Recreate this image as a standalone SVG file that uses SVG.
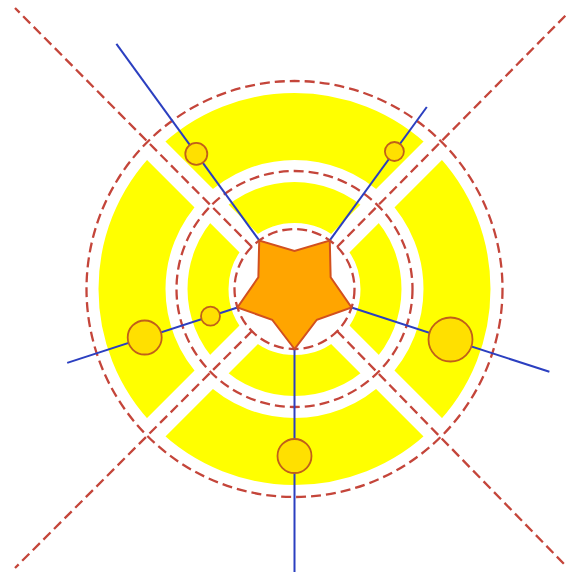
<svg xmlns="http://www.w3.org/2000/svg" width="569" height="572" viewBox="0 0 569 572">
  <style>
    .ring { fill: none; stroke: #FFFF00; }
    .gap { stroke: #FFFFFF; stroke-width: 26; }
    .dash { fill: none; stroke: #C4453A; stroke-width: 2.3; stroke-dasharray: 10 5; }
    .ray { stroke: #2B3FC0; stroke-width: 2; fill: none; }
    .dot { fill: #FFE000; stroke: #C0601A; stroke-width: 1.8; }
    .star { fill: #FFA500; stroke: #D2501E; stroke-width: 2; stroke-linejoin: miter; }
  </style>
  <rect width="569" height="572" fill="#FFFFFF"/>
  <g id="background" transform="translate(294.5,289)">
    <circle class="ring" r="162.5" stroke-width="67"/>
    <circle class="ring" r="86.5" stroke-width="41"/>
    <line class="gap" x1="-300" y1="-300" x2="300" y2="300"/>
    <line class="gap" x1="-300" y1="300" x2="300" y2="-300"/>
    <circle class="dash" r="208"/>
    <circle class="dash" r="118"/>
    <circle class="dash" r="60"/>
  </g>
  <g id="diagonals">
    <line class="dash" x1="252" y1="247" x2="15" y2="8"/>
    <line class="dash" x1="337" y1="247" x2="568" y2="13"/>
    <line class="dash" x1="252" y1="331" x2="15" y2="568"/>
    <line class="dash" x1="337" y1="331" x2="566" y2="566"/>
  </g>
  <g id="connectors" transform="translate(294.5,289)">
    <line class="ray" x1="-35.27" y1="-48.54" x2="-178.1" y2="-245.1"/>
    <line class="ray" x1="35.27" y1="-48.54" x2="132.3" y2="-182.0"/>
    <line class="ray" x1="57.06" y1="18.54" x2="254.9" y2="82.8"/>
    <line class="ray" x1="0" y1="60" x2="0" y2="290"/>
    <line class="ray" x1="-57.06" y1="18.54" x2="-227.3" y2="73.9"/>
  </g>
  <g id="star" transform="translate(294.5,289)">
    <polygon class="star" points="0,60 -22.34,30.74 -57.06,18.54 -36.14,-11.74 -35.27,-48.54 0,-38 35.27,-48.54 36.14,-11.74 57.06,18.54 22.34,30.74"/>
  </g>
  <g id="node-top-left" transform="translate(294.5,289)"><circle class="dot" cx="-98.2" cy="-135.1" r="11"/></g>
  <g id="node-top-right" transform="translate(294.5,289)"><circle class="dot" cx="99.9" cy="-137.5" r="9.5"/></g>
  <g id="node-left-outer" transform="translate(294.5,289)"><circle class="dot" cx="-149.8" cy="48.5" r="17"/></g>
  <g id="node-left-inner" transform="translate(294.5,289)"><circle class="dot" cx="-84" cy="27.2" r="9.5"/></g>
  <g id="node-bottom" transform="translate(294.5,289)"><circle class="dot" cx="0" cy="167" r="17"/></g>
  <g id="node-right" transform="translate(294.5,289)"><circle class="dot" cx="156" cy="50.5" r="22"/></g>
</svg>
